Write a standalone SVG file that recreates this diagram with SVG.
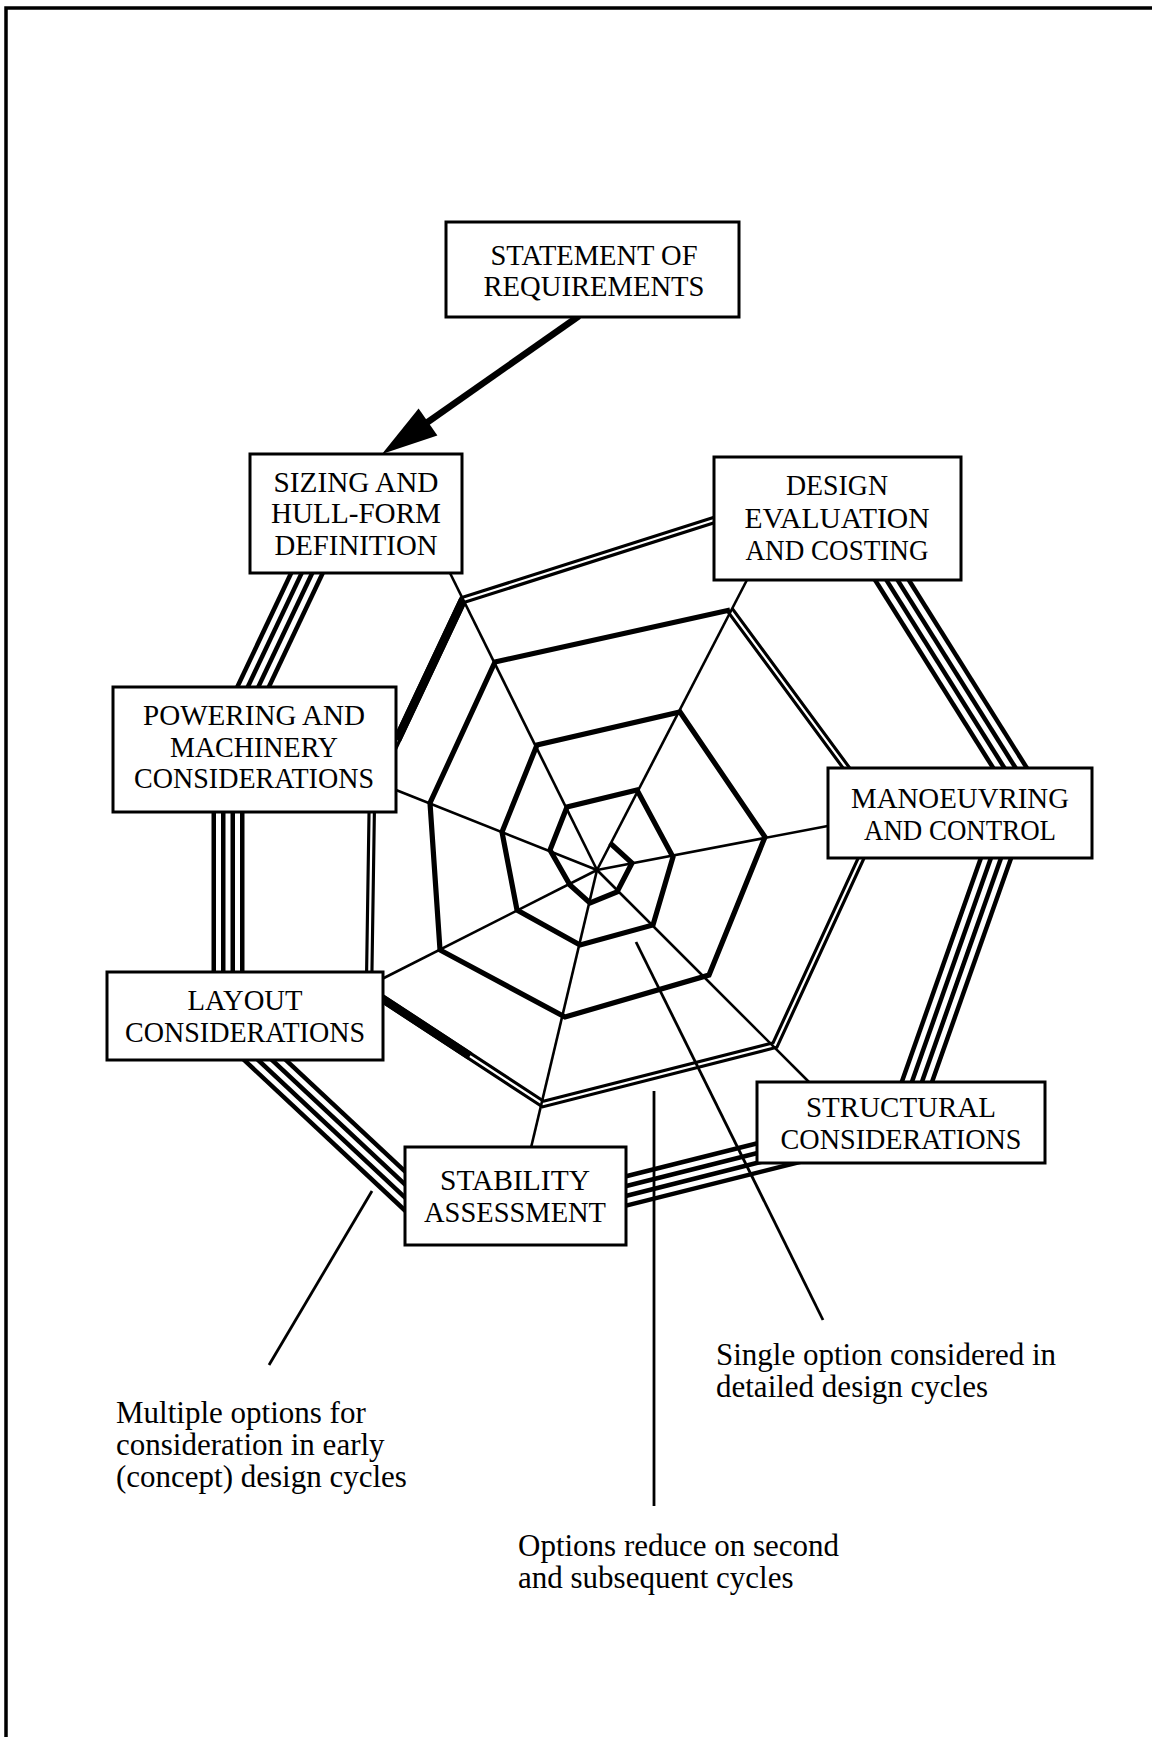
<svg xmlns="http://www.w3.org/2000/svg" width="1152" height="1737" viewBox="0 0 1152 1737">
  <style>
    .frame { fill: none; stroke: #000; stroke-width: 3.5; }
    .box rect { fill: #fff; stroke: #000; stroke-width: 3; }
    .box text { font-family: "Liberation Serif", "Times New Roman", serif; font-size: 30px; fill: #000; text-anchor: middle; }
    .note { font-family: "Liberation Serif", "Times New Roman", serif; font-size: 31px; fill: #000; }
    /* four-line band built from nested strokes */
    .b1 { fill: none; stroke: #000; stroke-width: 33; }
    .b2 { fill: none; stroke: #fff; stroke-width: 24; }
    .b3 { fill: none; stroke: #000; stroke-width: 14; }
    .b4 { fill: none; stroke: #fff; stroke-width: 5; }
    /* two-line band */
    .d1 { fill: none; stroke: #000; stroke-width: 8.5; stroke-linejoin: miter; }
    .d2 { fill: none; stroke: #fff; stroke-width: 2.2; stroke-linejoin: miter; }
    .solid { fill: none; stroke: #000; stroke-width: 8.5; }
    .ring { fill: none; stroke: #000; stroke-width: 5.2; stroke-linejoin: miter; stroke-miterlimit: 8; }
    .spoke { fill: none; stroke: #000; stroke-width: 2.6; }
    .shaft { fill: none; stroke: #000; stroke-width: 6.5; }
    .pointer { fill: none; stroke: #000; stroke-width: 2.8; }
  </style>

  <!-- page frame -->
  <path class="frame" d="M6,1737 L6,8 L1152,8"/>

  <g id="connectors">
    <!-- outer band: four options per cycle -->
    <g id="band-outer">
      <path class="b1" d="M319.8,545.9 L240.2,714.1"/>
      <path class="b2" d="M319.8,545.9 L240.2,714.1"/>
      <path class="b3" d="M319.8,545.9 L240.2,714.1"/>
      <path class="b4" d="M319.8,545.9 L240.2,714.1"/>

      <path class="b1" d="M228,780 L228,1000"/>
      <path class="b2" d="M228,780 L228,1000"/>
      <path class="b3" d="M228,780 L228,1000"/>
      <path class="b4" d="M228,780 L228,1000"/>

      <path class="b1" d="M243.1,1039.5 L423.3,1208.1"/>
      <path class="b2" d="M243.1,1039.5 L423.3,1208.1"/>
      <path class="b3" d="M243.1,1039.5 L423.3,1208.1"/>
      <path class="b4" d="M243.1,1039.5 L423.3,1208.1"/>

      <path class="b1" d="M601.7,1197.1 L815.2,1143.4"/>
      <path class="b2" d="M601.7,1197.1 L815.2,1143.4"/>
      <path class="b3" d="M601.7,1197.1 L815.2,1143.4"/>
      <path class="b4" d="M601.7,1197.1 L815.2,1143.4"/>

      <path class="b1" d="M907,1110 L1006,829.7"/>
      <path class="b2" d="M907,1110 L1006,829.7"/>
      <path class="b3" d="M907,1110 L1006,829.7"/>
      <path class="b4" d="M907,1110 L1006,829.7"/>

      <path class="b1" d="M1026,793.4 L876,554.6"/>
      <path class="b2" d="M1026,793.4 L876,554.6"/>
      <path class="b3" d="M1026,793.4 L876,554.6"/>
      <path class="b4" d="M1026,793.4 L876,554.6"/>
    </g>

    <!-- second band: two options -->
    <g id="band-double">
      <path class="d1" d="M733,514 L463,600 L372,793 L369,990 L543,1104 L775,1045 L881,815 L730,610"/>
      <path class="d2" d="M733,514 L463,600 L372,793 L369,990 L543,1104 L775,1045 L881,815 L730,610"/>
      <path class="solid" d="M463,600 L397,740"/>
      <path class="solid" d="M380,997 L470,1056"/>
    </g>

    <!-- single-option spiral -->
    <polyline class="ring" points="730,610 495,662 430,803 440,950 565,1017 709,975 765,837 680,712 537,745 502,832 517,910 580,945 653,925 673,857 637,790 567,807 550,850 570,885 590,903 617,892 632,863 610,843"/>

    <!-- spokes from the centre to each activity -->
    <g id="spokes">
      <line class="spoke" x1="597" y1="870" x2="448" y2="569"/>
      <line class="spoke" x1="597" y1="870" x2="749" y2="576"/>
      <line class="spoke" x1="597" y1="870" x2="833" y2="825"/>
      <line class="spoke" x1="597" y1="870" x2="813" y2="1086"/>
      <line class="spoke" x1="597" y1="870" x2="530" y2="1152"/>
      <line class="spoke" x1="597" y1="870" x2="378" y2="981"/>
      <line class="spoke" x1="597" y1="870" x2="391" y2="788"/>
    </g>

    <!-- entry arrow -->
    <line class="shaft" x1="579" y1="316" x2="425" y2="424"/>
    <polygon points="382,454 418.6,408.5 437.4,435.5" fill="#000"/>

    <!-- annotation pointers -->
    <line class="pointer" x1="372" y1="1191" x2="269" y2="1365"/>
    <line class="pointer" x1="654" y1="1091" x2="654" y2="1506"/>
    <line class="pointer" x1="636" y1="942" x2="823" y2="1320"/>
  </g>

  <g id="statement" class="box">
    <rect x="446" y="222" width="293" height="95"/>
    <text x="594" y="265" textLength="207" lengthAdjust="spacingAndGlyphs">STATEMENT OF</text>
    <text x="594" y="296" textLength="221" lengthAdjust="spacingAndGlyphs">REQUIREMENTS</text>
  </g>

  <g id="sizing" class="box">
    <rect x="250" y="454" width="212" height="119"/>
    <text x="356" y="492" textLength="165" lengthAdjust="spacingAndGlyphs">SIZING AND</text>
    <text x="356" y="523" textLength="170" lengthAdjust="spacingAndGlyphs">HULL-FORM</text>
    <text x="356" y="555" textLength="163" lengthAdjust="spacingAndGlyphs">DEFINITION</text>
  </g>

  <g id="evaluation" class="box">
    <rect x="714" y="457" width="247" height="123"/>
    <text x="837" y="495" textLength="102" lengthAdjust="spacingAndGlyphs">DESIGN</text>
    <text x="837" y="528" textLength="185" lengthAdjust="spacingAndGlyphs">EVALUATION</text>
    <text x="837" y="560" textLength="183" lengthAdjust="spacingAndGlyphs">AND COSTING</text>
  </g>

  <g id="powering" class="box">
    <rect x="113" y="687" width="283" height="125"/>
    <text x="254" y="725" textLength="222" lengthAdjust="spacingAndGlyphs">POWERING AND</text>
    <text x="254" y="757" textLength="168" lengthAdjust="spacingAndGlyphs">MACHINERY</text>
    <text x="254" y="788" textLength="240" lengthAdjust="spacingAndGlyphs">CONSIDERATIONS</text>
  </g>

  <g id="manoeuvring" class="box">
    <rect x="828" y="768" width="264" height="90"/>
    <text x="960" y="808" textLength="218" lengthAdjust="spacingAndGlyphs">MANOEUVRING</text>
    <text x="960" y="840" textLength="192" lengthAdjust="spacingAndGlyphs">AND CONTROL</text>
  </g>

  <g id="layout" class="box">
    <rect x="107" y="972" width="276" height="88"/>
    <text x="245" y="1010" textLength="115" lengthAdjust="spacingAndGlyphs">LAYOUT</text>
    <text x="245" y="1042" textLength="240" lengthAdjust="spacingAndGlyphs">CONSIDERATIONS</text>
  </g>

  <g id="structural" class="box">
    <rect x="757" y="1082" width="288" height="81"/>
    <text x="901" y="1117" textLength="190" lengthAdjust="spacingAndGlyphs">STRUCTURAL</text>
    <text x="901" y="1149" textLength="241" lengthAdjust="spacingAndGlyphs">CONSIDERATIONS</text>
  </g>

  <g id="stability" class="box">
    <rect x="405" y="1147" width="221" height="98"/>
    <text x="515" y="1190" textLength="150" lengthAdjust="spacingAndGlyphs">STABILITY</text>
    <text x="515" y="1222" textLength="182" lengthAdjust="spacingAndGlyphs">ASSESSMENT</text>
  </g>

  <g id="notes">
    <text class="note" x="116" y="1423">Multiple options for</text>
    <text class="note" x="116" y="1455">consideration in early</text>
    <text class="note" x="116" y="1487">(concept) design cycles</text>
    <text class="note" x="518" y="1556">Options reduce on second</text>
    <text class="note" x="518" y="1588">and subsequent cycles</text>
    <text class="note" x="716" y="1365">Single option considered in</text>
    <text class="note" x="716" y="1397">detailed design cycles</text>
  </g>
</svg>
